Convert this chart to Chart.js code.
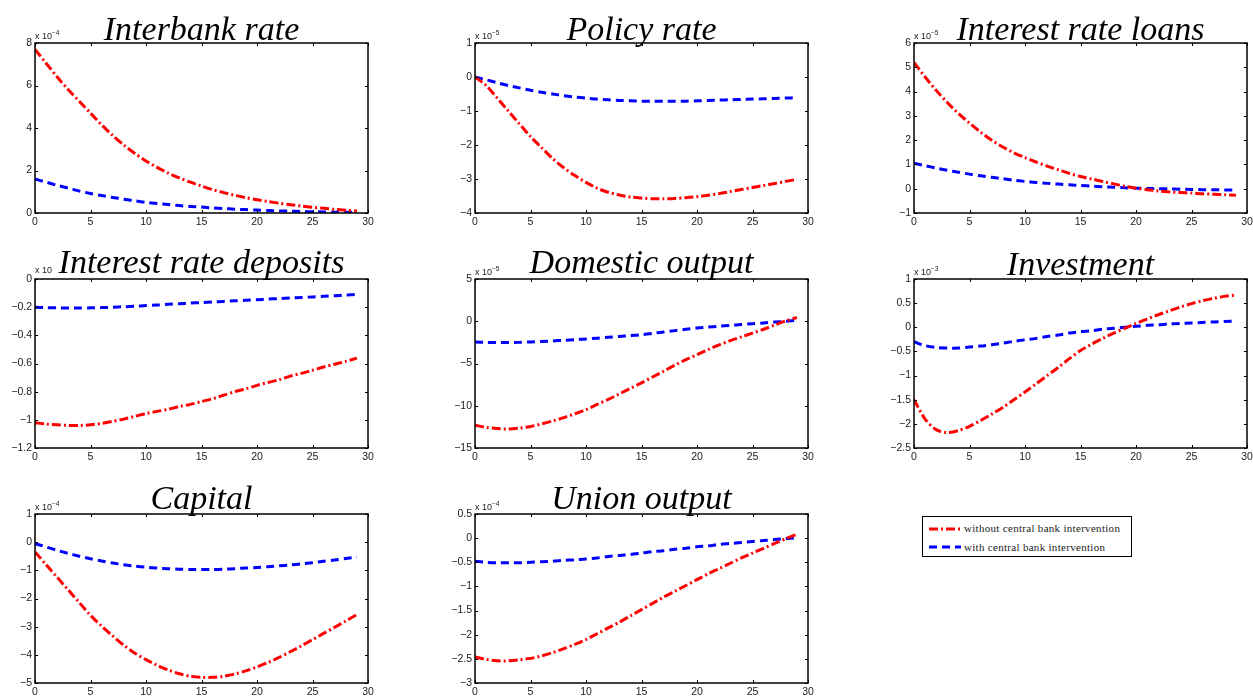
<!DOCTYPE html>
<html>
<head>
<meta charset="utf-8">
<script src="https://cdn.jsdelivr.net/npm/chart.js@4.4.1/dist/chart.umd.min.js"></script>
<style>
  body { margin: 0; background: #fff; width: 1253px; height: 698px; overflow: hidden; position: relative; font-family: "Liberation Sans", Arial, sans-serif; }
  .panel { position: absolute; }
  .ttl { position: absolute; font-family: "Liberation Serif", serif; font-style: italic; font-size: 34px; line-height: 1; white-space: nowrap; transform: translateX(-50%); color: #000; }
  .mult { position: absolute; font-size: 9px; line-height: 1; color: #222; white-space: nowrap; }
  .mult sup { font-size: 6.5px; vertical-align: 4px; }
  #legend { position: absolute; left: 922px; top: 516px; width: 208px; height: 39px; border: 1.5px solid #000; background: #fff; }
  #legend canvas { position: absolute; left: 0; top: 0; }
  #legend span { position: absolute; left: 41px; font-family: "Liberation Serif", serif; font-size: 11px; letter-spacing: 0.3px; line-height: 1; white-space: nowrap; color: #222; }
</style>
</head>
<body>
<div id="legend">
  <canvas id="legendLines" width="40" height="39"></canvas>
  <span style="top:6px">without central bank intervention</span>
  <span style="top:25px">with central bank intervention</span>
</div>
<script>
// periods after the shock
const periods = [0,1,2,3,4,5,6,7,8,9,10,11,12,13,14,15,16,17,18,19,20,21,22,23,24,25,26,27,28,29];

const seriesLabels = ['without central bank intervention', 'with central bank intervention'];

const panelTitles = ['Interbank rate', 'Policy rate', 'Interest rate loans', 'Interest rate deposits',
  'Domestic output', 'Investment', 'Capital', 'Union output'];
const panelExponents = ['-4', '-5', '-5', '', '-5', '-3', '-4', '-4'];
// [min, max, step] of each y axis
const yRanges = [[0, 8, 2], [-4, 1, 1], [-1, 6, 1], [-1.2, 0, 0.2], [-15, 5, 5], [-2.5, 1, 0.5], [-5, 1, 1], [-3, 0.5, 0.5]];

const interbankWithout = [7.7,7.05,6.4,5.8,5.25,4.7,4.15,3.65,3.2,2.8,2.45,2.15,1.88,1.65,1.45,1.27,1.1,0.96,0.83,0.72,0.62,0.54,0.46,0.39,0.33,0.27,0.22,0.17,0.13,0.1];
const interbankWith = [1.6,1.45,1.3,1.17,1.03,0.92,0.82,0.73,0.65,0.57,0.5,0.45,0.4,0.35,0.31,0.28,0.24,0.21,0.18,0.16,0.14,0.12,0.1,0.09,0.07,0.06,0.05,0.04,0.03,0.03];

const policyWithout = [0,-0.25,-0.62,-1.0,-1.38,-1.75,-2.08,-2.4,-2.67,-2.9,-3.1,-3.27,-3.39,-3.47,-3.53,-3.56,-3.58,-3.58,-3.57,-3.55,-3.52,-3.48,-3.43,-3.37,-3.31,-3.25,-3.19,-3.13,-3.07,-3.01];
const policyWith = [0,-0.08,-0.17,-0.25,-0.32,-0.39,-0.45,-0.5,-0.55,-0.59,-0.62,-0.65,-0.67,-0.69,-0.7,-0.71,-0.71,-0.71,-0.71,-0.71,-0.7,-0.69,-0.68,-0.67,-0.66,-0.65,-0.64,-0.63,-0.62,-0.61];

const loansWithout = [5.2,4.6,4.05,3.55,3.1,2.7,2.33,2.0,1.72,1.48,1.28,1.1,0.93,0.78,0.63,0.5,0.4,0.3,0.2,0.1,0.02,-0.04,-0.09,-0.13,-0.16,-0.18,-0.21,-0.23,-0.25,-0.27];
const loansWith = [1.05,0.95,0.85,0.76,0.68,0.6,0.53,0.47,0.41,0.35,0.3,0.26,0.22,0.19,0.16,0.13,0.11,0.08,0.06,0.04,0.02,0.01,0,-0.01,-0.02,-0.03,-0.04,-0.04,-0.05,-0.05];

const depositsWithout = [-1.02,-1.03,-1.035,-1.04,-1.04,-1.035,-1.025,-1.01,-0.995,-0.975,-0.955,-0.94,-0.925,-0.905,-0.89,-0.87,-0.85,-0.825,-0.8,-0.78,-0.755,-0.735,-0.715,-0.69,-0.67,-0.648,-0.625,-0.605,-0.585,-0.562];
const depositsWith = [-0.2,-0.203,-0.205,-0.206,-0.206,-0.205,-0.203,-0.2,-0.197,-0.193,-0.189,-0.185,-0.18,-0.176,-0.171,-0.167,-0.163,-0.159,-0.155,-0.151,-0.147,-0.143,-0.139,-0.135,-0.131,-0.127,-0.123,-0.119,-0.114,-0.11];

const domesticWithout = [-12.3,-12.55,-12.7,-12.75,-12.65,-12.45,-12.15,-11.8,-11.4,-10.95,-10.45,-9.85,-9.25,-8.6,-7.95,-7.3,-6.6,-5.9,-5.2,-4.55,-3.95,-3.35,-2.8,-2.3,-1.85,-1.4,-0.95,-0.45,0.05,0.45];
const domesticWith = [-2.45,-2.5,-2.52,-2.52,-2.5,-2.45,-2.4,-2.33,-2.25,-2.17,-2.1,-2.0,-1.9,-1.8,-1.7,-1.59,-1.43,-1.27,-1.11,-0.95,-0.8,-0.69,-0.59,-0.49,-0.39,-0.29,-0.2,-0.1,0.0,0.1];

const investmentWithout = [-1.5,-1.9,-2.12,-2.18,-2.14,-2.05,-1.93,-1.8,-1.66,-1.5,-1.34,-1.17,-1.0,-0.83,-0.65,-0.48,-0.35,-0.23,-0.12,-0.02,0.08,0.17,0.26,0.34,0.42,0.49,0.55,0.6,0.64,0.67];
const investmentWith = [-0.3,-0.38,-0.42,-0.43,-0.43,-0.41,-0.39,-0.36,-0.33,-0.29,-0.26,-0.23,-0.19,-0.16,-0.12,-0.09,-0.07,-0.04,-0.02,0.0,0.02,0.04,0.05,0.07,0.08,0.09,0.1,0.11,0.12,0.13];

const capitalWithout = [-0.35,-0.8,-1.25,-1.7,-2.15,-2.6,-2.98,-3.33,-3.66,-3.94,-4.17,-4.37,-4.54,-4.67,-4.76,-4.8,-4.8,-4.76,-4.68,-4.57,-4.43,-4.27,-4.09,-3.89,-3.68,-3.46,-3.24,-3.02,-2.8,-2.57];
const capitalWith = [-0.05,-0.17,-0.29,-0.4,-0.5,-0.59,-0.67,-0.74,-0.8,-0.85,-0.89,-0.92,-0.94,-0.96,-0.97,-0.97,-0.97,-0.96,-0.94,-0.92,-0.9,-0.87,-0.84,-0.81,-0.77,-0.73,-0.68,-0.63,-0.58,-0.53];

const unionWithout = [-2.46,-2.51,-2.54,-2.54,-2.52,-2.49,-2.44,-2.37,-2.29,-2.2,-2.1,-1.98,-1.86,-1.74,-1.61,-1.48,-1.35,-1.22,-1.1,-0.98,-0.86,-0.74,-0.63,-0.52,-0.41,-0.31,-0.21,-0.11,-0.01,0.08];
const unionWith = [-0.48,-0.5,-0.51,-0.51,-0.51,-0.5,-0.49,-0.48,-0.46,-0.45,-0.43,-0.41,-0.38,-0.36,-0.34,-0.31,-0.28,-0.26,-0.23,-0.21,-0.18,-0.16,-0.13,-0.11,-0.09,-0.07,-0.05,-0.03,-0.01,0.01];

const withoutSeries = [interbankWithout, policyWithout, loansWithout, depositsWithout, domesticWithout, investmentWithout, capitalWithout, unionWithout];
const withSeries = [interbankWith, policyWith, loansWith, depositsWith, domesticWith, investmentWith, capitalWith, unionWith];

// plot boxes [left, top, right, bottom] and title baselines
const boxes = [[35,43,368,213],[475,43,808,213],[914,43,1247,213],
               [35,279,368,448],[475,279,808,448],[914,279,1247,448],
               [35,514,368,683],[475,514,808,683]];
const titleBase = [40,40,40,273,273,275,509,509];

const RED = '#ff0000', BLUE = '#0000ff';
const redDash = [9,3,2,3];
const blueDash = [8,5];

const yAxisW = 35, xAxisH = 20, padTop = 10, padRight = 14;

// MATLAB style box with inward ticks on all four sides
const frameTicks = {
  id: 'frameTicks',
  afterDraw(chart) {
    const ctx = chart.ctx, a = chart.chartArea;
    const xs = chart.scales.x, ys = chart.scales.y;
    ctx.save();
    ctx.strokeStyle = '#000';
    ctx.lineWidth = 1;
    ctx.beginPath();
    xs.ticks.forEach(t => {
      const px = Math.round(xs.getPixelForValue(t.value)) + 0.5;
      ctx.moveTo(px, a.bottom); ctx.lineTo(px, a.bottom - 3);
      ctx.moveTo(px, a.top); ctx.lineTo(px, a.top + 3);
    });
    ys.ticks.forEach(t => {
      const py = Math.round(ys.getPixelForValue(t.value)) + 0.5;
      ctx.moveTo(a.left, py); ctx.lineTo(a.left + 3, py);
      ctx.moveTo(a.right, py); ctx.lineTo(a.right - 3, py);
    });
    ctx.stroke();
    ctx.lineWidth = 1.5;
    ctx.strokeRect(a.left, a.top, a.right - a.left, a.bottom - a.top);
    ctx.restore();
  }
};

function fmt(v) {
  const s = String(Math.round(v * 1000) / 1000);
  return s.replace('-', '\u2212');
}

boxes.forEach((b, i) => {
  const w = b[2] - b[0], h = b[3] - b[1];
  const cv = document.createElement('canvas');
  cv.className = 'panel';
  cv.width = w + yAxisW + padRight;
  cv.height = h + padTop + xAxisH;
  cv.style.left = (b[0] - yAxisW) + 'px';
  cv.style.top = (b[1] - padTop) + 'px';
  document.body.appendChild(cv);

  const ttl = document.createElement('div');
  ttl.className = 'ttl';
  ttl.textContent = panelTitles[i];
  ttl.style.left = ((b[0] + b[2]) / 2) + 'px';
  ttl.style.top = (titleBase[i] - 28.5) + 'px';
  document.body.appendChild(ttl);

  const m = document.createElement('div');
  m.className = 'mult';
  m.innerHTML = 'x 10' + (panelExponents[i] ? '<sup>' + panelExponents[i].replace('-', '\u2212') + '</sup>' : '');
  m.style.left = b[0] + 'px';
  m.style.top = (b[1] - 13) + 'px';
  document.body.appendChild(m);

  const r = yRanges[i];
  new Chart(cv, {
    type: 'line',
    data: {
      datasets: [
        { label: seriesLabels[0], data: periods.map((p, k) => ({ x: p, y: withoutSeries[i][k] })),
          borderColor: RED, borderWidth: 3, borderDash: redDash, pointRadius: 0, tension: 0.3, fill: false },
        { label: seriesLabels[1], data: periods.map((p, k) => ({ x: p, y: withSeries[i][k] })),
          borderColor: BLUE, borderWidth: 3, borderDash: blueDash, pointRadius: 0, tension: 0.3, fill: false }
      ]
    },
    options: {
      responsive: false,
      animation: false,
      devicePixelRatio: 1,
      layout: { autoPadding: false, padding: { left: 0, top: padTop, right: padRight, bottom: 0 } },
      plugins: { legend: { display: false }, tooltip: { enabled: false }, title: { display: false } },
      scales: {
        x: {
          type: 'linear', min: 0, max: 30,
          grid: { display: false, drawTicks: false }, border: { display: false },
          ticks: { stepSize: 5, padding: 3, color: '#1a1a1a', font: { family: 'Liberation Sans', size: 10.5 }, maxRotation: 0, callback: fmt },
          afterFit(s) { s.height = xAxisH; }
        },
        y: {
          min: r[0], max: r[1],
          grid: { display: false, drawTicks: false }, border: { display: false },
          ticks: { stepSize: r[2], padding: 3, color: '#1a1a1a', font: { family: 'Liberation Sans', size: 10.5 }, callback: fmt },
          afterFit(s) { s.width = yAxisW; }
        }
      }
    },
    plugins: [frameTicks]
  });
});

// legend sample lines
const lc = document.getElementById('legendLines').getContext('2d');
lc.lineWidth = 3;
lc.strokeStyle = RED; lc.setLineDash(redDash);
lc.beginPath(); lc.moveTo(6, 12); lc.lineTo(38, 12); lc.stroke();
lc.strokeStyle = BLUE; lc.setLineDash(blueDash);
lc.beginPath(); lc.moveTo(6, 30); lc.lineTo(38, 30); lc.stroke();
</script>
</body>
</html>
